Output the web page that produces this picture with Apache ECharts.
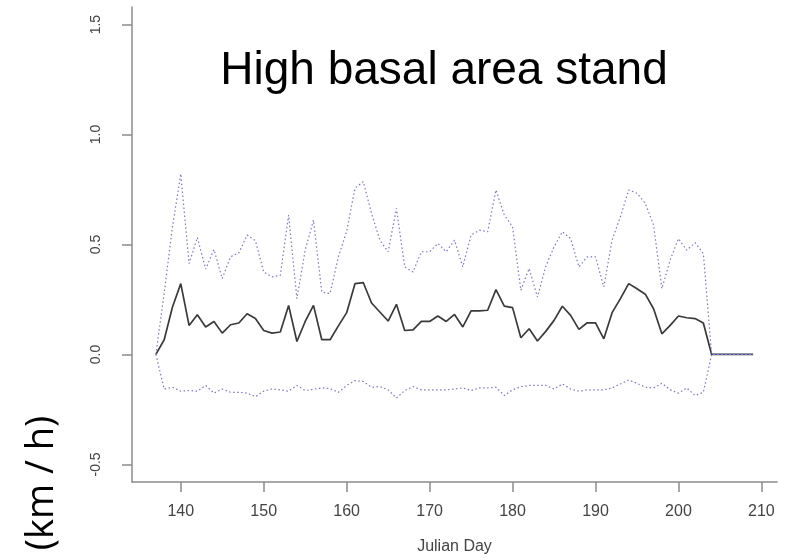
<!DOCTYPE html>
<html>
<head>
<meta charset="utf-8">
<script src="https://cdn.jsdelivr.net/npm/echarts@6/dist/echarts.min.js"></script>
<style>
  html, body { margin: 0; padding: 0; background: #fff; }
  #chart { width: 786px; height: 560px; }
</style>
</head>
<body>
<div id="chart"></div>
<script>
// Julian days of the record
var days = [137, 138, 139, 140, 141, 142, 143, 144, 145, 146, 147, 148, 149, 150,
  151, 152, 153, 154, 155, 156, 157, 158, 159, 160, 161, 162, 163, 164, 165, 166,
  167, 168, 169, 170, 171, 172, 173, 174, 175, 176, 177, 178, 179, 180, 181, 182,
  183, 184, 185, 186, 187, 188, 189, 190, 191, 192, 193, 194, 195, 196, 197, 198,
  199, 200, 201, 202, 203, 204, 205, 206, 207, 208, 209];

// Mean speed (km / h)
var meanSpeed = [0, 0.067, 0.216, 0.322, 0.132, 0.181, 0.125, 0.150, 0.097, 0.135,
  0.143, 0.185, 0.163, 0.109, 0.097, 0.102, 0.223, 0.059, 0.150, 0.223, 0.067,
  0.067, 0.130, 0.190, 0.322, 0.327, 0.234, 0.193, 0.152, 0.228, 0.109, 0.112,
  0.150, 0.150, 0.175, 0.150, 0.182, 0.125, 0.198, 0.198, 0.201, 0.295, 0.220,
  0.213, 0.076, 0.117, 0.061, 0.105, 0.155, 0.219, 0.178, 0.114, 0.144, 0.144,
  0.071, 0.190, 0.254, 0.322, 0.299, 0.274, 0.208, 0.094, 0.132, 0.175, 0.167,
  0.163, 0.143, 0, 0, 0, 0, 0, 0];

// Upper bound
var upperBound = [0, 0.28, 0.58, 0.821, 0.413, 0.532, 0.388, 0.477, 0.345, 0.444,
  0.462, 0.543, 0.517, 0.375, 0.353, 0.360, 0.634, 0.254, 0.474, 0.611, 0.284,
  0.277, 0.444, 0.56, 0.755, 0.786, 0.641, 0.520, 0.467, 0.664, 0.398, 0.375,
  0.467, 0.467, 0.505, 0.467, 0.520, 0.398, 0.543, 0.565, 0.558, 0.748, 0.634,
  0.581, 0.292, 0.391, 0.261, 0.40, 0.489, 0.558, 0.527, 0.398, 0.444, 0.444,
  0.307, 0.520, 0.626, 0.748, 0.733, 0.687, 0.588, 0.299, 0.429, 0.527, 0.474,
  0.508, 0.459, 0, 0, 0, 0, 0, 0];

// Lower bound
var lowerBound = [0, -0.157, -0.149, -0.167, -0.164, -0.167, -0.141, -0.176, -0.157,
  -0.172, -0.172, -0.176, -0.192, -0.167, -0.157, -0.161, -0.167, -0.141, -0.164,
  -0.158, -0.152, -0.155, -0.172, -0.141, -0.119, -0.123, -0.149, -0.146, -0.161,
  -0.198, -0.164, -0.146, -0.161, -0.161, -0.161, -0.161, -0.157, -0.152, -0.164,
  -0.152, -0.152, -0.149, -0.187, -0.161, -0.146, -0.141, -0.141, -0.141, -0.157,
  -0.134, -0.157, -0.167, -0.161, -0.161, -0.161, -0.152, -0.134, -0.116, -0.131,
  -0.149, -0.152, -0.131, -0.161, -0.176, -0.152, -0.187, -0.172, 0, 0, 0, 0, 0, 0];

// Tick positions
var xTicks = [140, 150, 160, 170, 180, 190, 200, 210];
var yTicks = [-0.5, 0, 0.5, 1.0, 1.5];

function pairs(values) {
  return days.map(function (d, i) { return [d, values[i]]; });
}

var axisGray = '#8c8c8c';
var labelGray = '#444';
var bandColor = '#7878c4';

var chart = echarts.init(document.getElementById('chart'), null, { renderer: 'canvas' });

chart.setOption({
  animation: false,
  backgroundColor: '#fff',
  grid: { left: 132, right: 9, top: 7, bottom: 78, containLabel: false },
  xAxis: {
    type: 'value',
    min: 134.12,
    max: 211.88,
    name: 'Julian Day',
    nameLocation: 'middle',
    nameGap: 57,
    nameTextStyle: { fontFamily: 'Liberation Sans', fontSize: 16, color: labelGray },
    axisLine: { show: true, onZero: false, lineStyle: { color: axisGray, width: 1.5 } },
    axisTick: { show: true, length: 10, customValues: xTicks, lineStyle: { color: axisGray, width: 1.5 } },
    axisLabel: {
      customValues: xTicks,
      margin: 22,
      fontFamily: 'Liberation Sans',
      fontSize: 16,
      color: labelGray
    },
    splitLine: { show: false }
  },
  yAxis: {
    type: 'value',
    min: -0.58,
    max: 1.58,
    axisLine: { show: true, onZero: false, lineStyle: { color: axisGray, width: 1.5 } },
    axisTick: { show: true, length: 10, customValues: yTicks, lineStyle: { color: axisGray, width: 1.5 } },
    axisLabel: {
      customValues: yTicks,
      rotate: 90,
      margin: 29,
      fontFamily: 'Liberation Sans',
      fontSize: 14,
      color: labelGray,
      formatter: function (v) { return v.toFixed(1); }
    },
    splitLine: { show: false }
  },
  graphic: [
    {
      type: 'text',
      style: {
        x: 444, y: 71,
        text: 'High basal area stand',
        fontFamily: 'Liberation Sans',
        fontSize: 46,
        fill: '#000',
        align: 'center',
        verticalAlign: 'middle'
      }
    },
    {
      type: 'text',
      x: 42, y: 483,
      rotation: Math.PI / 2,
      style: {
        x: 0, y: 0,
        text: '(km / h)',
        fontFamily: 'Open Sans',
        fontSize: 38,
        fill: '#000',
        align: 'center',
        verticalAlign: 'middle'
      }
    }
  ],
  series: [
    {
      type: 'line',
      data: pairs(meanSpeed),
      symbol: 'none',
      lineStyle: { color: '#3a3a3a', width: 1.7 },
      z: 2
    },
    {
      type: 'line',
      data: pairs(upperBound),
      symbol: 'none',
      lineStyle: { color: bandColor, width: 1.2, type: [1.5, 2.5] },
      z: 3
    },
    {
      type: 'line',
      data: pairs(lowerBound),
      symbol: 'none',
      lineStyle: { color: bandColor, width: 1.2, type: [1.5, 2.5] },
      z: 3
    }
  ]
});
</script>
</body>
</html>
